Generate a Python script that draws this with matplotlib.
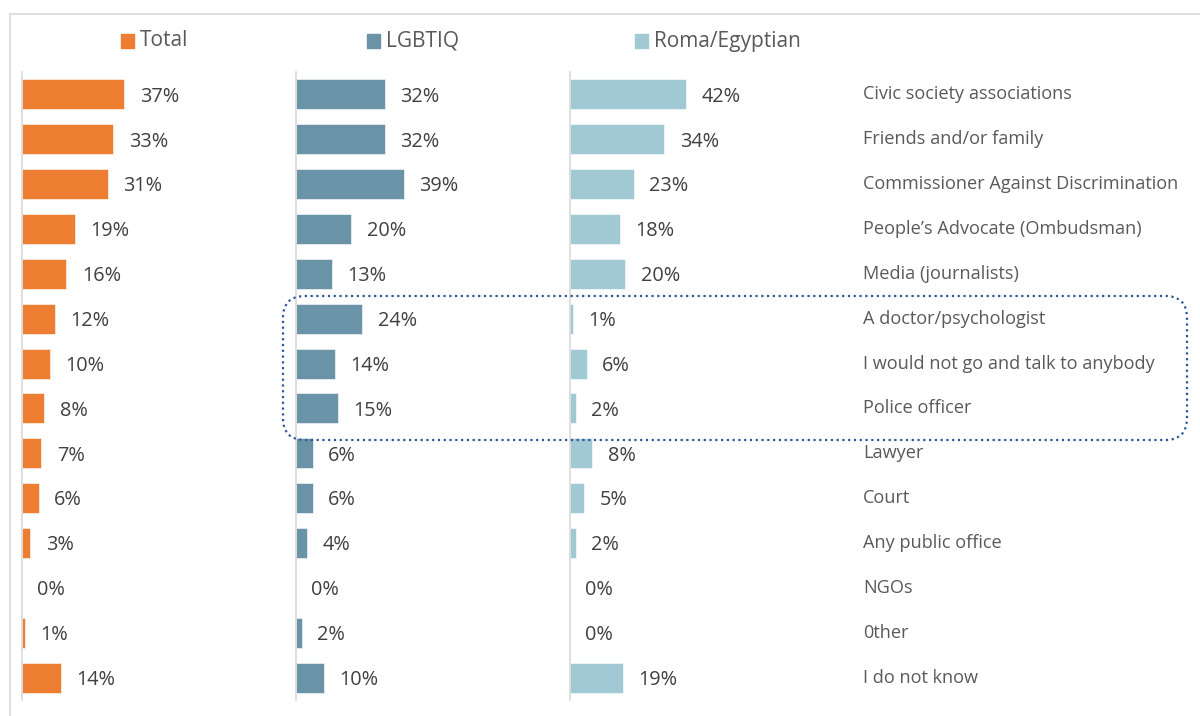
import matplotlib.pyplot as plt
from matplotlib.patches import FancyBboxPatch
from matplotlib.lines import Line2D
from matplotlib.transforms import blended_transform_factory

plt.rcParams['font.family'] = ['Open Sans', 'DejaVu Sans']

categories = ["Civic society associations", "Friends and/or family",
              "Commissioner Against Discrimination", "People\u2019s Advocate (Ombudsman)",
              "Media (journalists)", "A doctor/psychologist",
              "I would not go and talk to anybody", "Police officer", "Lawyer",
              "Court", "Any public office", "NGOs", "0ther", "I do not know"]
total = [37, 33, 31, 19, 16, 12, 10, 8, 7, 6, 3, 0, 1, 14]
lgbtiq = [32, 32, 39, 20, 13, 24, 14, 15, 6, 6, 4, 0, 2, 10]
roma = [42, 34, 23, 18, 20, 1, 6, 2, 8, 5, 2, 0, 0, 19]

series = [("Total", total, "#ED7D31"),
          ("LGBTIQ", lgbtiq, "#6A93A8"),
          ("Roma/Egyptian", roma, "#A0C9D3")]

W, H = 1200, 716
fig = plt.figure(figsize=(W / 100, H / 100), dpi=100)

lefts = [22, 296, 570]
panel_w = 274
top_px, bot_px = 72, 700
rows = list(range(len(categories)))

axes = []
for (name, vals, col), lx in zip(series, lefts):
    ax = fig.add_axes([lx / W, 1 - bot_px / H, panel_w / W, (bot_px - top_px) / H])
    ax.barh(rows, vals, height=0.67, color=col, edgecolor="white", linewidth=0.4)
    for r, v in zip(rows, vals):
        ax.text(v + 5.6, r + 0.05, f"{v}%", va="center", ha="left", fontsize=14.3,
                color="#404040")
    ax.set_xlim(0, 99)
    ax.set_ylim(len(categories) - 0.5, -0.5)
    ax.set_xticks([])
    ax.set_yticks([])
    for s in ["top", "right", "bottom"]:
        ax.spines[s].set_visible(False)
    ax.spines["left"].set_color("#D9D9D9")
    ax.spines["left"].set_linewidth(1.2)
    ax.patch.set_alpha(0)
    axes.append(ax)

# category names to the right of the last panel
trans = blended_transform_factory(fig.transFigure, axes[-1].transData)
for r, c in zip(rows, categories):
    fig.text(863 / W, r, c, transform=trans, va="center", ha="left",
             fontsize=13.1, color="#595959")

# legend squares and labels
leg_x = [121, 367, 635]
for (name, vals, col), x in zip(series, leg_x):
    fig.patches.append(plt.Rectangle((x / W, 1 - 48 / H), 13 / W, 14 / H,
                                     transform=fig.transFigure, color=col))
    fig.text((x + 19) / W, 1 - 41 / H, name, va="center", ha="left",
             fontsize=15, color="#595959")

# outer frame (top and left edges)
fig.add_artist(Line2D([10 / W, 1], [1 - 14 / H, 1 - 14 / H],
                      transform=fig.transFigure, color="#D9D9D9", lw=1.2))
fig.add_artist(Line2D([10 / W, 10 / W], [0, 1 - 14 / H],
                      transform=fig.transFigure, color="#D9D9D9", lw=1.2))

# dotted highlight around the three middle rows
box = FancyBboxPatch((2.83, (H - 440) / 100), 11.87 - 2.83, 1.44,
                     boxstyle="round,pad=0,rounding_size=0.22",
                     transform=fig.dpi_scale_trans, fill=False,
                     edgecolor="#2F5597", lw=1.6, linestyle=(0, (1, 1.6)))
fig.add_artist(box)

fig.savefig("out.png", dpi=100)
